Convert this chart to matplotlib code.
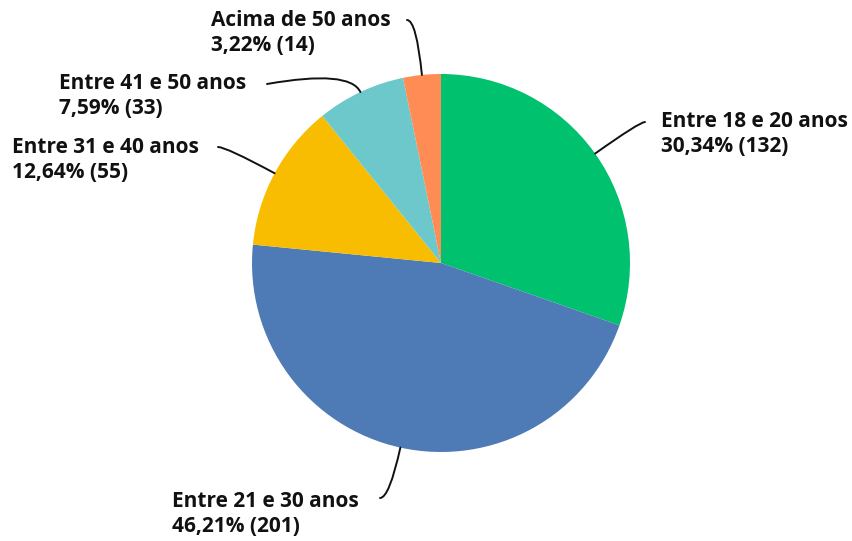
import matplotlib.pyplot as plt
import numpy as np

plt.rcParams['font.family'] = ['Open Sans', 'DejaVu Sans']

labels = ["Entre 18 e 20 anos", "Entre 21 e 30 anos", "Entre 31 e 40 anos",
          "Entre 41 e 50 anos", "Acima de 50 anos"]
counts = [132, 201, 55, 33, 14]
colors = ["#00c16e", "#4e7bb5", "#f8bd00", "#6dc8cc", "#ff8c55"]

W, H = 852, 541
fig = plt.figure(figsize=(W / 100, H / 100), dpi=100)
ax = fig.add_axes([0, 0, 1, 1])

cx, cy, r = 441, H - 263, 189
wedges, _ = ax.pie(counts, colors=colors, startangle=90, counterclock=False,
                   center=(cx, cy), radius=r,
                   wedgeprops=dict(linewidth=0))
ax.set_xlim(0, W)
ax.set_ylim(0, H)
ax.set_aspect("equal")
ax.axis("off")

total = sum(counts)

# label layout: (text left x, baseline y of first line, line end x, line end y, angleA)
layout = [
    (661, 127, 645, 122, 0),
    (172, 507, 380, 498, 0),
    (12, 153, 218, 147, 0),
    (59, 89, 267, 84, 10),
    (211, 26, 407, 20, 0),
]

for w, lab, c, (tx, ty, lx, ly, angA) in zip(wedges, labels, counts, layout):
    pct = f"{100 * c / total:.2f}".replace(".", ",")
    ax.text(tx, H - ty, lab, fontsize=15, fontweight="bold", color="#111111",
            ha="left", va="baseline")
    ax.text(tx, H - ty - 25, f"{pct}% ({c})", fontsize=15, fontweight="bold",
            color="#111111", ha="left", va="baseline")
    mid = np.deg2rad((w.theta1 + w.theta2) / 2)
    px, py = cx + r * np.cos(mid), cy + r * np.sin(mid)
    angB = np.rad2deg(mid)
    ax.annotate("", xy=(px, py), xytext=(lx, H - ly),
                arrowprops=dict(arrowstyle="-", color="#111111", lw=1.4,
                                shrinkA=0, shrinkB=0,
                                connectionstyle=f"angle3,angleA={angA},angleB={angB}"))

fig.savefig("out.png", dpi=100, facecolor="white")
